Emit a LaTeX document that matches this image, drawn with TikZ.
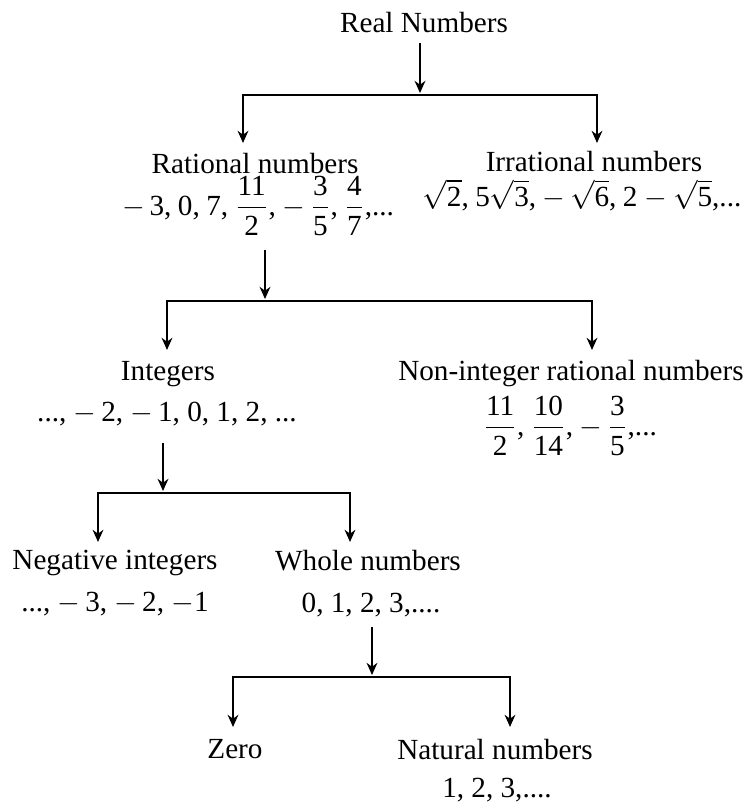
\documentclass[tikz,border=0pt]{standalone}
\usepackage{amsmath}
\usepackage{fontspec}
\setmainfont{Liberation Serif}
\usetikzlibrary{arrows.meta}
\newcommand{\dg}[1]{\text{#1}}
\newcommand{\cm}{\mathpunct{\text{,}}\mkern1mu}
\newcommand{\mn}{\mathord{-}\mkern3mu}
\begin{document}
\begin{tikzpicture}[x=0.411pt,y=-0.411pt,
  lbl/.style={inner sep=0pt,anchor=base,font=\fontsize{12}{14}\selectfont},
  arr/.style={line width=1.05pt,-{Stealth[length=5pt,width=4.4pt,inset=1.6pt]}},
  brk/.style={line width=1.05pt,{Stealth[length=5pt,width=4.4pt,inset=1.6pt]}-{Stealth[length=5pt,width=4.4pt,inset=1.6pt]}}]
\useasboundingbox (0,0) rectangle (745,803);
% labels
\node[lbl] (real) at (424,32) {Real Numbers};
\node[lbl] (rat) at (255,173) {Rational numbers};
\node[lbl] (ratl) at (258,215) {$\mn\dg{3}\cm \dg{0}\cm \dg{7}\cm \dfrac{\dg{11}}{\dg{2}}\cm \mn\dfrac{\dg{3}}{\dg{5}}\cm \dfrac{\dg{4}}{\dg{7}}\text{,...}$};
\node[lbl] (irr) at (594,171) {Irrational numbers};
\node[lbl] (irrl) at (582,206) {$\sqrt{\dg{2}}\cm \dg{5}\sqrt{\dg{3}}\cm \mn\sqrt{\dg{6}}\cm \dg{2}-\sqrt{\dg{5}}\text{,...}$};
\node[lbl] (int) at (168,380) {Integers};
\node[lbl] (intl) at (167,421) {..., $-$\,2, $-$\,1, 0, 1, 2, ...};
\node[lbl] (nonint) at (571,380) {Non-integer rational numbers};
\node[lbl] (nonintl) at (570,435) {$\dfrac{\dg{11}}{\dg{2}}\cm \dfrac{\dg{10}}{\dg{14}}\cm \mn\dfrac{\dg{3}}{\dg{5}}\text{,...}$};
\node[lbl] (neg) at (115,569) {Negative integers};
\node[lbl] (negl) at (115,611) {..., $-$\,3, $-$\,2, $-$1};
\node[lbl] (whole) at (368,570) {Whole numbers};
\node[lbl] (wholel) at (371,612) {0, 1, 2, 3,....};
\node[lbl] (zero) at (235,758) {Zero};
\node[lbl] (nat) at (495,759) {Natural numbers};
\node[lbl] (natl) at (497,797) {1, 2, 3,....};
% connector coordinates
\coordinate (s1) at (420,43);  \coordinate (j1) at (420,95);
\coordinate (l1) at (243,95);  \coordinate (r1) at (597,95);
\coordinate (tl1) at (243,143); \coordinate (tr1) at (597,143);
\coordinate (s2) at (265,250); \coordinate (j2) at (265,301);
\coordinate (l2) at (167,301); \coordinate (r2) at (592,301);
\coordinate (tl2) at (167,350); \coordinate (tr2) at (592,350);
\coordinate (s3) at (163,443); \coordinate (j3) at (163,493);
\coordinate (l3) at (98,493);  \coordinate (r3) at (350,493);
\coordinate (tl3) at (98,542); \coordinate (tr3) at (350,542);
\coordinate (s4) at (372,627); \coordinate (j4) at (372,677);
\coordinate (l4) at (233,677); \coordinate (r4) at (510,677);
\coordinate (tl4) at (233,727); \coordinate (tr4) at (510,727);
% connectors
\draw[arr] (s1) -- ([yshift=0.8pt]j1);
\draw[brk] (tl1) -- (l1) -- (r1) -- (tr1);
\draw[arr] (s2) -- ([yshift=0.8pt]j2);
\draw[brk] (tl2) -- (l2) -- (r2) -- (tr2);
\draw[arr] (s3) -- ([yshift=0.8pt]j3);
\draw[brk] (tl3) -- (l3) -- (r3) -- (tr3);
\draw[arr] (s4) -- ([yshift=0.8pt]j4);
\draw[brk] (tl4) -- (l4) -- (r4) -- (tr4);
\end{tikzpicture}
\end{document}
